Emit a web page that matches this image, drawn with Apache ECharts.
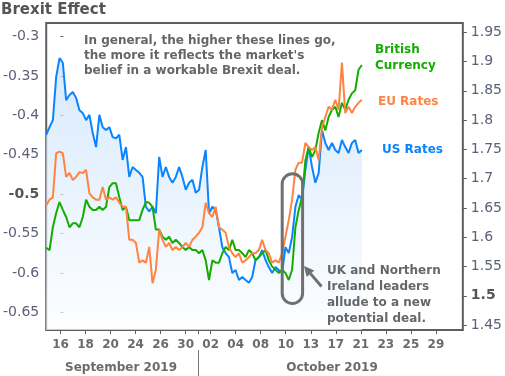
<!DOCTYPE html>
<html>
<head>
<meta charset="utf-8">
<script src="https://cdn.jsdelivr.net/npm/echarts@6/dist/echarts.min.js"></script>
<style>
  html, body { margin: 0; padding: 0; background: #fff; }
  #chart { width: 505px; height: 376px; }
</style>
</head>
<body>
<div id="chart"></div>
<script>
// x is in trading days, 0 = Sep 16 2019; samples are a quarter-ish day apart
var startDay = -1.14;
var stepDay = 0.2655;

var dayTicks = [0, 2, 4, 6, 8, 10, 12, 14, 16, 18, 20, 22, 24, 26, 28, 30];
var dayLabels = ['16', '18', '20', '24', '26', '30', '02', '04', '08', '10', '13', '17', '21', '23', '25', '29'];
var monthBreak = 11;

var leftTicks = [-0.65, -0.6, -0.55, -0.5, -0.45, -0.4, -0.35, -0.3];
var rightTicks = [1.45, 1.5, 1.55, 1.6, 1.65, 1.7, 1.75, 1.8, 1.85, 1.9, 1.95];

// US Rates (right axis)
var usRates = [
    1.775, 1.788, 1.800, 1.874, 1.906, 1.898, 1.834, 1.843, 1.848, 1.838, 1.817, 1.812,
    1.800, 1.809, 1.778, 1.754, 1.809, 1.788, 1.783, 1.788, 1.771, 1.769, 1.775, 1.732,
    1.754, 1.703, 1.720, 1.715, 1.710, 1.703, 1.652, 1.644, 1.652, 1.641, 1.737, 1.703,
    1.720, 1.703, 1.693, 1.703, 1.720, 1.703, 1.681, 1.693, 1.698, 1.676, 1.681, 1.720,
    1.749, 1.641, 1.652, 1.647, 1.617, 1.583, 1.573, 1.566, 1.539, 1.544, 1.527, 1.532,
    1.527, 1.522, 1.532, 1.561, 1.566, 1.578, 1.561, 1.549, 1.539, 1.549, 1.544, 1.539,
    1.583, 1.573, 1.600, 1.652, 1.672, 1.664, 1.715, 1.754, 1.720, 1.693, 1.710, 1.783,
    1.761, 1.749, 1.761, 1.749, 1.744, 1.766, 1.754, 1.744, 1.761, 1.766, 1.744, 1.749
];

// EU Rates (left axis)
var euRates = [
    -0.514, -0.507, -0.504, -0.448, -0.446, -0.448, -0.478, -0.473, -0.482, -0.478, -0.472, -0.473,
    -0.469, -0.499, -0.504, -0.507, -0.507, -0.491, -0.507, -0.504, -0.507, -0.504, -0.511, -0.516,
    -0.516, -0.558, -0.558, -0.562, -0.587, -0.584, -0.587, -0.567, -0.613, -0.596, -0.545, -0.558,
    -0.567, -0.562, -0.571, -0.567, -0.571, -0.567, -0.562, -0.567, -0.558, -0.554, -0.549, -0.542,
    -0.511, -0.524, -0.529, -0.516, -0.542, -0.545, -0.549, -0.567, -0.575, -0.580, -0.575, -0.587,
    -0.584, -0.580, -0.575, -0.575, -0.571, -0.558, -0.571, -0.575, -0.587, -0.584, -0.587, -0.575,
    -0.554, -0.533, -0.507, -0.469, -0.460, -0.460, -0.435, -0.440, -0.444, -0.440, -0.457, -0.415,
    -0.402, -0.389, -0.393, -0.380, -0.393, -0.333, -0.397, -0.389, -0.397, -0.389, -0.384, -0.380
];

// British Currency (drawn against the left scale)
var gbpCurrency = [
    -0.568, -0.571, -0.542, -0.524, -0.510, -0.520, -0.529, -0.542, -0.537, -0.537, -0.542, -0.529,
    -0.507, -0.516, -0.520, -0.520, -0.516, -0.520, -0.516, -0.491, -0.486, -0.486, -0.504, -0.520,
    -0.516, -0.533, -0.533, -0.533, -0.533, -0.520, -0.510, -0.511, -0.516, -0.545, -0.545, -0.554,
    -0.558, -0.554, -0.562, -0.558, -0.562, -0.567, -0.571, -0.567, -0.571, -0.571, -0.575, -0.571,
    -0.584, -0.609, -0.584, -0.587, -0.587, -0.575, -0.567, -0.571, -0.558, -0.571, -0.571, -0.575,
    -0.580, -0.571, -0.575, -0.584, -0.580, -0.575, -0.571, -0.584, -0.592, -0.596, -0.600, -0.596,
    -0.600, -0.609, -0.596, -0.542, -0.520, -0.504, -0.457, -0.440, -0.453, -0.444, -0.422, -0.406,
    -0.419, -0.402, -0.393, -0.389, -0.402, -0.384, -0.393, -0.380, -0.372, -0.368, -0.342, -0.336
];

function toPairs(vals) {
    var out = [];
    for (var i = 0; i < vals.length; i++) {
        out.push([startDay + i * stepDay, vals[i]]);
    }
    return out;
}

var chart = echarts.init(document.getElementById('chart'));

var txt = '#666';
var axisTxt = '#5a6178';
var font = '"DejaVu Sans", Verdana, sans-serif';

var option = {
    animation: false,
    grid: {
        left: 45, right: 42, top: 23, bottom: 46,
        show: true, borderColor: '#5e5e5e', borderWidth: 2
    },
    xAxis: {
        type: 'value',
        min: -1.139,
        max: 32.15,
        splitLine: { show: false },
        axisLine: { show: false },
        axisTick: {
            show: true, length: 4, lineStyle: { color: '#5e5e5e' },
            customValues: dayTicks.concat([monthBreak])
        },
        axisLabel: {
            customValues: dayTicks,
            margin: 9,
            color: '#6b6b6b',
            fontFamily: font,
            fontWeight: 'bold',
            fontSize: 12,
            formatter: function (v) {
                return dayLabels[dayTicks.indexOf(Math.round(v))];
            }
        }
    },
    yAxis: [
        {
            type: 'value',
            min: -0.6725,
            max: -0.2826,
            splitLine: { show: false },
            axisLine: { show: false },
            axisTick: { show: true, inside: true, length: 3, lineStyle: { color: '#5e5e5e' }, customValues: leftTicks },
            axisLabel: {
                customValues: leftTicks,
                margin: 7,
                color: axisTxt,
                fontFamily: font,
                fontSize: 14,
                formatter: function (v) {
                    var s = String(+v.toFixed(2));
                    return s === '-0.5' ? '{b|' + s + '}' : s;
                },
                rich: { b: { fontWeight: 'bold', color: '#555', fontSize: 14, fontFamily: font } }
            }
        },
        {
            type: 'value',
            position: 'right',
            min: 1.4415,
            max: 1.9659,
            splitLine: { show: false },
            axisLine: { show: false },
            axisTick: { show: true, length: 4, lineStyle: { color: '#5e5e5e' }, customValues: rightTicks },
            axisLabel: {
                customValues: rightTicks,
                margin: 8,
                color: axisTxt,
                fontFamily: font,
                fontSize: 14,
                formatter: function (v) {
                    var s = String(+v.toFixed(2));
                    return s === '1.5' ? '{b|' + s + '}' : s;
                },
                rich: { b: { fontWeight: 'bold', color: '#555', fontSize: 14, fontFamily: font } }
            }
        }
    ],
    series: [
        {
            name: 'US Rates',
            type: 'line',
            yAxisIndex: 1,
            showSymbol: false,
            data: toPairs(usRates),
            lineStyle: { color: '#0a84ff', width: 2 },
            itemStyle: { color: '#0a84ff' },
            areaStyle: {
                color: new echarts.graphic.LinearGradient(0, 0, 0, 1, [
                    { offset: 0, color: '#c6dffa' },
                    { offset: 1, color: '#fbfdff' }
                ])
            }
        },
        {
            name: 'British Currency',
            type: 'line',
            yAxisIndex: 0,
            showSymbol: false,
            data: toPairs(gbpCurrency),
            lineStyle: { color: '#14ac00', width: 2 },
            itemStyle: { color: '#14ac00' }
        },
        {
            name: 'EU Rates',
            type: 'line',
            yAxisIndex: 0,
            showSymbol: false,
            data: toPairs(euRates),
            lineStyle: { color: '#ff8444', width: 2 },
            itemStyle: { color: '#ff8444' }
        }
    ],
    graphic: [
        { type: 'text', x: 1, y: 3, style: { text: 'Brexit Effect', font: 'bold 15px ' + font, fill: '#555' } },
        {
            type: 'text', x: 84, y: 33,
            style: {
                text: 'In general, the higher these lines go,\nthe more it reflects the market\'s\nbelief in a workable Brexit deal.',
                font: 'bold 12px ' + font, fill: txt, lineHeight: 15.3
            }
        },
        { type: 'text', x: 375, y: 42, style: { text: 'British\nCurrency', font: 'bold 12px ' + font, fill: '#14ac00', lineHeight: 16 } },
        { type: 'text', x: 378, y: 96, style: { text: 'EU Rates', font: 'bold 12px ' + font, fill: '#ff8444' } },
        { type: 'text', x: 382, y: 144, style: { text: 'US Rates', font: 'bold 12px ' + font, fill: '#0a84ff' } },
        {
            type: 'rect', shape: { x: 282.2, y: 173.8, width: 20.4, height: 129.7, r: 10.2 },
            style: { fill: 'none', stroke: '#707070', lineWidth: 3 }, z: 10
        },
        {
            type: 'line', shape: { x1: 321.5, y1: 286.5, x2: 310.5, y2: 273.6 },
            style: { stroke: '#707070', lineWidth: 3 }, z: 10
        },
        {
            type: 'polygon', shape: { points: [[304, 266], [314.3, 270.4], [306.7, 276.9]] },
            style: { fill: '#707070' }, z: 10
        },
        {
            type: 'text', x: 327, y: 263,
            style: {
                text: 'UK and Northern\nIreland leaders\nallude to a new\npotential deal.',
                font: 'bold 12px ' + font, fill: txt, lineHeight: 16
            }, z: 10
        },
        { type: 'text', x: 121, y: 368, style: { text: 'September 2019', font: 'bold 12px ' + font, fill: '#6b6b6b', align: 'center', verticalAlign: 'middle' } },
        { type: 'text', x: 332, y: 368, style: { text: 'October 2019', font: 'bold 12px ' + font, fill: '#6b6b6b', align: 'center', verticalAlign: 'middle' } },
        { type: 'line', shape: { x1: 198.5, y1: 350, x2: 198.5, y2: 376 }, style: { stroke: '#777', lineWidth: 1 } }
    ]
};

chart.setOption(option);
window.addEventListener('resize', function () {
    chart.resize();
});
</script>
</body>
</html>
